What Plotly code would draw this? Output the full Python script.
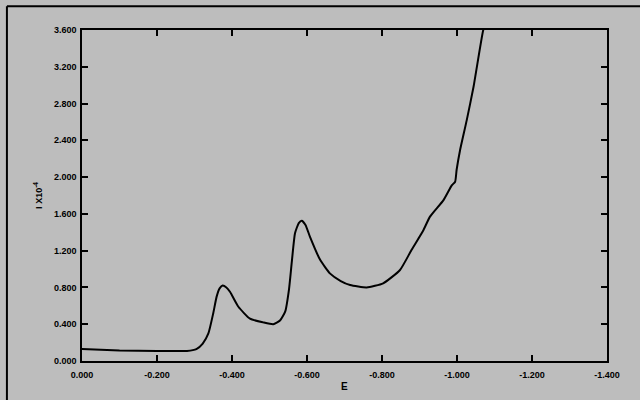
import plotly.graph_objects as go

# Data (potential E, current I x10^-4)
E = [0.000, 0.100, 0.200, 0.280, 0.305, 0.322, 0.337, 0.350, 0.359, 0.367, 0.375, 0.385, 0.395,
     0.417, 0.448, 0.483, 0.510, 0.528, 0.542, 0.552, 0.560, 0.568, 0.578, 0.586, 0.596, 0.608,
     0.635, 0.661, 0.690, 0.715, 0.759, 0.803, 0.848, 0.879, 0.910, 0.928, 0.964, 0.986,
     0.995, 0.999, 1.008, 1.026, 1.044, 1.070, 1.075]
I = [0.130, 0.115, 0.110, 0.110, 0.130, 0.190, 0.300, 0.520, 0.700, 0.790, 0.820, 0.800, 0.750,
     0.590, 0.460, 0.420, 0.400, 0.440, 0.540, 0.780, 1.100, 1.390, 1.500, 1.525, 1.480, 1.350,
     1.100, 0.953, 0.870, 0.826, 0.800, 0.845, 0.990, 1.210, 1.420, 1.570, 1.750, 1.910,
     1.950, 2.080, 2.290, 2.620, 2.980, 3.600, 3.650]
E_neg = [-e for e in E]

x_tickvals = [0.0, -0.2, -0.4, -0.6, -0.8, -1.0, -1.2, -1.4]
x_ticktext = ["0.000", "-0.200", "-0.400", "-0.600", "-0.800", "-1.000", "-1.200", "-1.400"]
y_tickvals = [0.0, 0.4, 0.8, 1.2, 1.6, 2.0, 2.4, 2.8, 3.2, 3.6]
y_ticktext = ["0.000", "0.400", "0.800", "1.200", "1.600", "2.000", "2.400", "2.800", "3.200", "3.600"]

bg = "#bdbdbd"
font = dict(family="Liberation Sans, Arial, sans-serif", size=9, color="black", weight="bold")

fig = go.Figure()
fig.add_trace(go.Scatter(x=E_neg, y=I, mode="lines",
                         line=dict(color="black", width=2, shape="spline", smoothing=0.5),
                         showlegend=False, hoverinfo="skip"))

axis_common = dict(showline=True, linecolor="black", linewidth=1.5, mirror="ticks",
                   ticks="inside", ticklen=6, tickwidth=1.5, tickcolor="black",
                   showgrid=False, zeroline=False, tickfont=font)

fig.update_xaxes(range=[0, -1.4], tickvals=x_tickvals, ticktext=x_ticktext,
                 ticklabelstandoff=4, **axis_common)
fig.update_yaxes(range=[0, 3.6], tickvals=y_tickvals, ticktext=y_ticktext,
                 ticklabelstandoff=2, **axis_common)

fig.update_layout(
    width=640, height=400,
    margin=dict(l=82, r=33, t=30, b=39),
    paper_bgcolor=bg, plot_bgcolor=bg,
    font=font,
    annotations=[
        dict(text="E", x=0.5, y=-0.055, xref="paper", yref="paper", showarrow=False,
             xanchor="center", yanchor="top",
             font=dict(family="Liberation Sans, Arial", size=10, color="black", weight="bold")),
        dict(text="I X10<sup>-4</sup>", x=-0.085, y=0.5, xref="paper", yref="paper", showarrow=False,
             textangle=-90, xanchor="center", yanchor="middle",
             font=dict(family="Liberation Sans, Arial", size=9, color="black", weight="bold")),
    ],
    shapes=[
        dict(type="line", xref="paper", yref="paper", x0=-0.143, x1=1.1, y0=1.072, y1=1.072,
             line=dict(color="black", width=2)),
        dict(type="line", xref="paper", yref="paper", x0=-0.143, x1=-0.143, y0=-0.2, y1=1.072,
             line=dict(color="black", width=2)),
    ],
)

fig.write_html("out.html", config={"displayModeBar": False},
               post_script="document.body.style.margin='0';")
